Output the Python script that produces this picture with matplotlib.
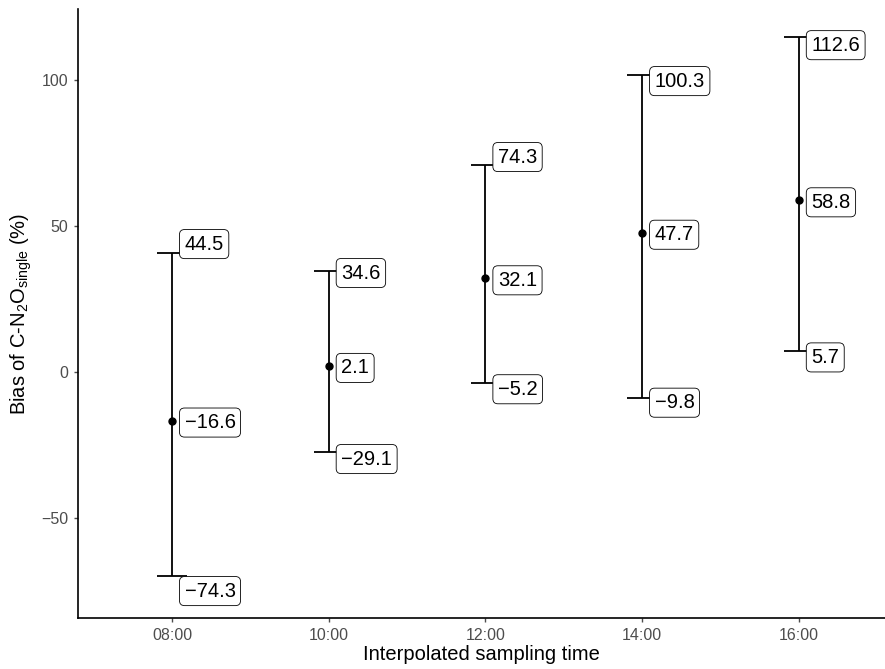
import matplotlib
matplotlib.use("Agg")
import matplotlib.pyplot as plt

plt.rcParams['font.family'] = ['Liberation Sans', 'DejaVu Sans']

times = [8, 10, 12, 14, 16]
tick_labels = ["08:00", "10:00", "12:00", "14:00", "16:00"]
mean_vals = [-16.6, 2.1, 32.1, 47.7, 58.8]
bar_upper = [40.8, 34.6, 70.9, 101.7, 114.8]
bar_lower = [-69.9, -27.4, -3.9, -8.8, 7.2]
label_upper = [44.5, 34.6, 74.3, 100.3, 112.6]
label_lower = [-74.3, -29.1, -5.2, -9.8, 5.7]

fig = plt.figure(figsize=(8.85, 6.69), dpi=100)
ax = fig.add_axes([78/885, 51/669, 1 - 78/885, 609/669])

cap = 0.19
for t, lo, hi in zip(times, bar_lower, bar_upper):
    ax.plot([t, t], [lo, hi], color='black', lw=1.3, solid_capstyle='butt')
    ax.plot([t - cap, t + cap], [hi, hi], color='black', lw=1.3, solid_capstyle='butt')
    ax.plot([t - cap, t + cap], [lo, lo], color='black', lw=1.3, solid_capstyle='butt')
ax.plot(times, mean_vals, 'o', color='black', ms=5, zorder=3)

def fmt(v):
    s = f"{v:.1f}"
    return s.replace('-', '\u2212')

bbox = dict(boxstyle='round,pad=0.25,rounding_size=0.25', fc='white', ec='black', lw=0.6)
for t, m, lu, ll in zip(times, mean_vals, label_upper, label_lower):
    for v in (lu, m, ll):
        ax.annotate(fmt(v), xy=(t, v), xytext=(9, 0), textcoords='offset points',
                    ha='left', va='center_baseline', fontsize=14.5, color='black',
                    bbox=bbox, zorder=4)

ax.set_xlim(6.80, 17.1)
ax.set_ylim(-84.2, 124.3)
ax.set_xticks(times)
ax.set_xticklabels(tick_labels)
ax.set_yticks([-50, 0, 50, 100])
ax.set_yticklabels(['\u221250', '0', '50', '100'])
for s in ['top', 'right']:
    ax.spines[s].set_visible(False)
for s in ['left', 'bottom']:
    ax.spines[s].set_linewidth(1.2)
ax.tick_params(axis='both', colors='#4d4d4d', labelsize=11.5, length=3, width=1, pad=4)
ax.tick_params(axis='both', labelcolor='#4d4d4d')
ax.set_xlabel('Interpolated sampling time', fontsize=14.5, labelpad=2)
ax.set_ylabel(r'Bias of C-N$_\mathregular{2}$O$_\mathregular{single}$ (%)', fontsize=14.5, labelpad=5)

fig.savefig('out.png', dpi=100)
